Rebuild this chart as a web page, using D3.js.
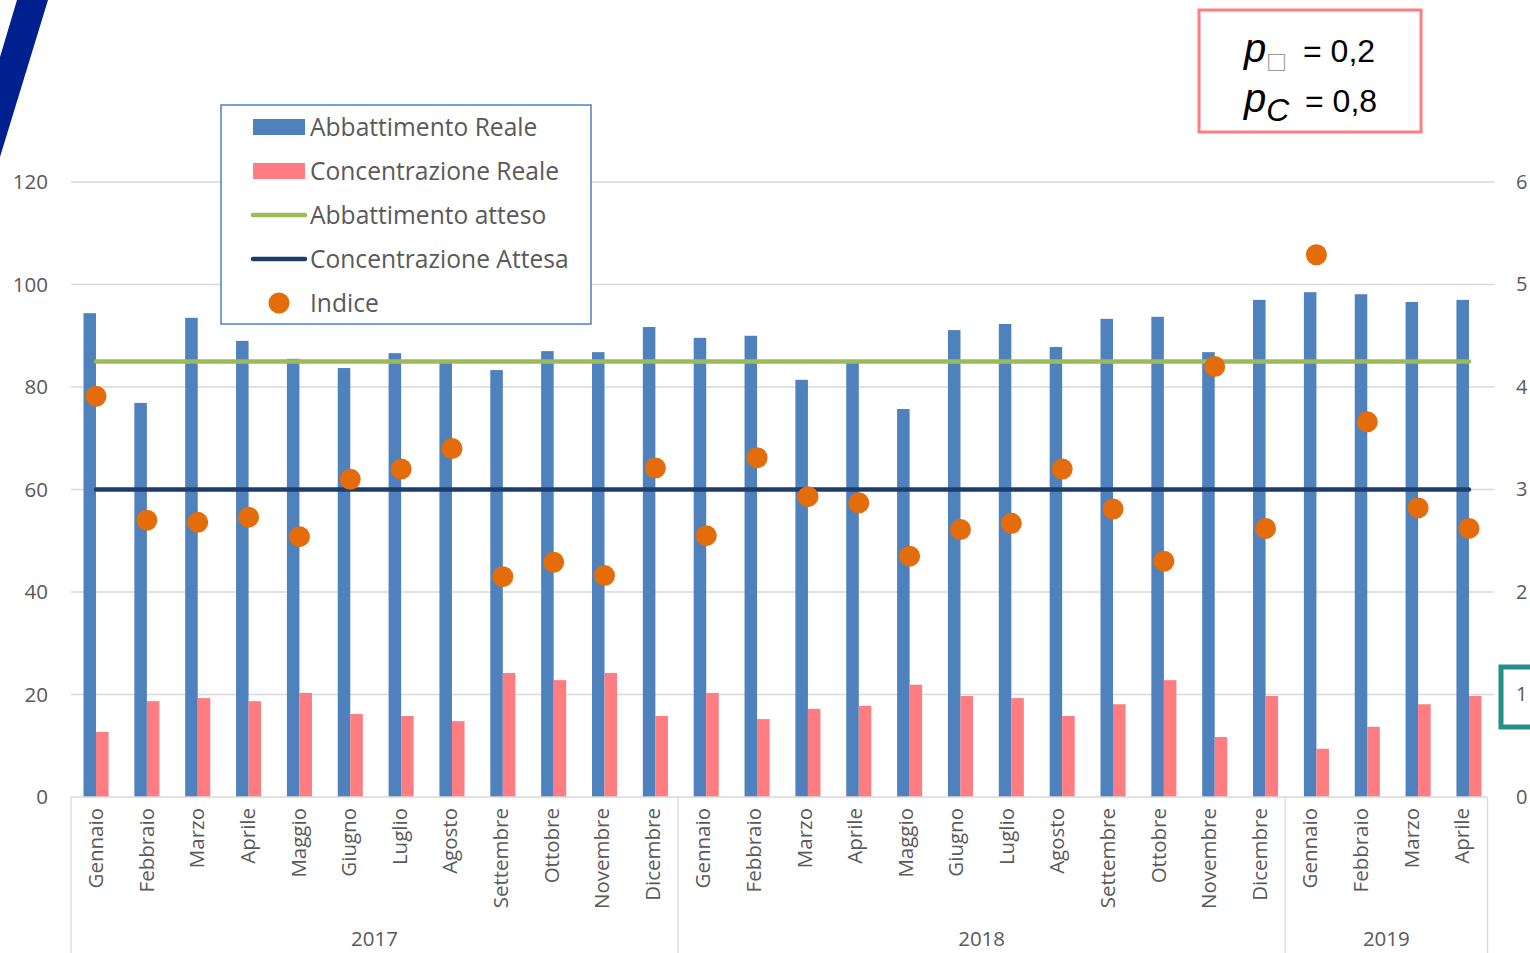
<!DOCTYPE html>
<html>
<head>
<meta charset="utf-8">
<script src="https://cdn.jsdelivr.net/npm/d3@7"></script>
<style>
  body { margin:0; background:#fff; }
  svg { display:block; font-family:"Open Sans", sans-serif; }
</style>
</head>
<body>
<div id="chart"></div>
<script>
// data
var months = ["Gennaio","Febbraio","Marzo","Aprile","Maggio","Giugno","Luglio","Agosto","Settembre","Ottobre","Novembre","Dicembre",
              "Gennaio","Febbraio","Marzo","Aprile","Maggio","Giugno","Luglio","Agosto","Settembre","Ottobre","Novembre","Dicembre",
              "Gennaio","Febbraio","Marzo","Aprile"]
var years = ["2017","2018","2019"]
var yearCounts = [12,12,4]
var abbattimentoReale = [94.4,76.9,93.5,89,85.5,83.7,86.6,85,83.3,87,86.8,91.7,
                         89.6,90,81.4,84.9,75.7,91.1,92.3,87.8,93.3,93.7,86.8,97,
                         98.5,98.1,96.6,97]
var concentrazioneReale = [12.7,18.7,19.3,18.7,20.3,16.2,15.8,14.8,24.2,22.8,24.2,15.8,
                           20.3,15.2,17.2,17.8,21.9,19.7,19.3,15.8,18.1,22.8,11.7,19.7,
                           9.4,13.7,18.1,19.7]
var indice = [3.91,2.70,2.68,2.73,2.54,3.10,3.20,3.40,2.15,2.29,2.16,3.21,
              2.55,3.31,2.93,2.87,2.35,2.61,2.67,3.20,2.81,2.30,4.20,2.62,
              5.29,3.66,2.82,2.62]
var abbattimentoAtteso = 85
var concentrazioneAttesa = 60
var leftTicks = [0,20,40,60,80,100,120]
var rightTicks = [0,1,2,3,4,5,6]
var legendItems = ["Abbattimento Reale","Concentrazione Reale","Abbattimento atteso","Concentrazione Attesa","Indice"]

var W = 1530, H = 953
// plot area (don't call these top/left, window.top is taken)
var plotL = 71, plotR = 1487.5, plotT = 182, plotB = 797

var col = {blue:"#4f81bd", pink:"#ff7c80", green:"#9bbb59", navy:"#1f3d6b", dot:"#e46c0a", txt:"#595959", grid:"#d9d9d9"}

var svg = d3.select("#chart").append("svg").attr("width", W).attr("height", H)

// blue stripe top-left
svg.append("polygon").attr("points","17,0 48,0 0,157 0,57").attr("fill","#00208f")

// axis categories
var x = d3.scaleBand().domain(d3.range(months.length)).range([plotL, plotR]).padding(0)
// the marks in the original sit on a slightly wider step than the axis, so they get their own band
var xm = d3.scaleBand().domain(d3.range(months.length)).range([70.6, 1494.4]).padding(0)
var x1 = d3.scaleBand().domain(["a","c"]).range([0, xm.bandwidth()]).paddingInner(0).paddingOuter(1.03)
var y = d3.scaleLinear().domain([0,120]).range([plotB, plotT])
var y2 = d3.scaleLinear().domain([0,6]).range([plotB, plotT])

// gridlines
svg.append("g").selectAll("line").data(leftTicks.slice(1)).enter().append("line")
  .attr("x1", plotL).attr("x2", plotR + 7)
  .attr("y1", function(d){return y(d)}).attr("y2", function(d){return y(d)})
  .attr("stroke", col.grid).attr("stroke-width", 1.3)

// left axis
var yAxis = d3.axisLeft(y).tickValues(leftTicks).tickFormat(d3.format("d")).tickSize(0).tickPadding(23)
var gy = svg.append("g").attr("transform","translate(" + plotL + ",0)").call(yAxis)
gy.select(".domain").remove()
gy.selectAll("text").attr("fill", col.txt).style("font-size","20.5px").style("font-family","Open Sans")

// highlight box around "1" on right axis
svg.append("rect").attr("x",1501).attr("y",667).attr("width",40).attr("height",60)
  .attr("fill","#fff").attr("stroke","#4472c4").attr("stroke-width",5)
svg.append("rect").attr("x",1501).attr("y",667).attr("width",40).attr("height",60)
  .attr("fill","none").attr("stroke","#12a060").attr("stroke-width",3)

// right axis (labels sit right at the page edge like the original)
var yAxis2 = d3.axisRight(y2).tickValues(rightTicks).tickFormat(d3.format("d")).tickSize(0).tickPadding(28.5)
var gy2 = svg.append("g").attr("transform","translate(" + plotR + ",0)").call(yAxis2)
gy2.select(".domain").remove()
gy2.selectAll("text").attr("fill", col.txt).style("font-size","20px").style("font-family","Open Sans")

// bars
var g = svg.append("g")
g.selectAll(".ab").data(abbattimentoReale).enter().append("rect")
  .attr("x", function(d,i){return xm(i) + x1("a")})
  .attr("width", x1.bandwidth())
  .attr("y", function(d){return y(d)})
  .attr("height", function(d){return plotB - y(d)})
  .attr("fill", col.blue)
g.selectAll(".co").data(concentrazioneReale).enter().append("rect")
  .attr("x", function(d,i){return xm(i) + x1("c")})
  .attr("width", x1.bandwidth())
  .attr("y", function(d){return y(d)})
  .attr("height", function(d){return plotB - y(d)})
  .attr("fill", col.pink)

// x axis line + year separators
svg.append("line").attr("x1", plotL).attr("x2", plotR).attr("y1", plotB).attr("y2", plotB)
  .attr("stroke", col.grid).attr("stroke-width", 1.3)
var cum = [0]
yearCounts.forEach(function(c){ cum.push(cum[cum.length-1] + c) })
svg.append("g").selectAll("line").data(cum).enter().append("line")
  .attr("x1", function(d){return d < months.length ? x(d) : plotR})
  .attr("x2", function(d){return d < months.length ? x(d) : plotR})
  .attr("y1", plotB).attr("y2", H)
  .attr("stroke", col.grid).attr("stroke-width", 1.3)

// month labels
svg.append("g").selectAll("text").data(months).enter().append("text")
  .attr("transform", function(d,i){
    return "translate(" + (x(i) + x.bandwidth()/2 + 7) + "," + (plotB + 11) + ") rotate(-90)"
  })
  .attr("text-anchor","end")
  .attr("fill", col.txt).style("font-size","20.5px")
  .text(function(d){return d})

// year labels
svg.append("g").selectAll("text").data(years).enter().append("text")
  .attr("x", function(d,i){
    var a = x(cum[i]), b = cum[i+1] < months.length ? x(cum[i+1]) : plotR
    return (a + b)/2
  })
  .attr("y", 946).attr("text-anchor","middle")
  .attr("fill", col.txt).style("font-size","20.5px")
  .text(function(d){return d})

// expected lines
var cx = function(i){return xm(i) + xm.bandwidth()/2}
var xs = [cx(0), cx(months.length-1)]
svg.append("line").attr("x1", xs[0]).attr("x2", xs[1])
  .attr("y1", y(abbattimentoAtteso)).attr("y2", y(abbattimentoAtteso))
  .attr("stroke", col.green).attr("stroke-width", 4.5).attr("stroke-linecap","round")
svg.append("line").attr("x1", xs[0]).attr("x2", xs[1])
  .attr("y1", y(concentrazioneAttesa)).attr("y2", y(concentrazioneAttesa))
  .attr("stroke", col.navy).attr("stroke-width", 4.5).attr("stroke-linecap","round")

// indice dots
svg.append("g").selectAll("circle").data(indice).enter().append("circle")
  .attr("cx", function(d,i){return cx(i)})
  .attr("cy", function(d){return y2(d)})
  .attr("r", 10.5)
  .attr("fill", col.dot)

// legend
var lg = svg.append("g")
lg.append("rect").attr("x",221).attr("y",105).attr("width",370).attr("height",219)
  .attr("fill","#fff").attr("stroke","#4f81bd").attr("stroke-width",1.5)
legendItems.forEach(function(name,i){
  var cy = 127 + i*44
  if (i < 2) {
    lg.append("rect").attr("x",253).attr("y",cy-8).attr("width",52).attr("height",16)
      .attr("fill", i==0 ? col.blue : col.pink)
  } else if (i < 4) {
    lg.append("line").attr("x1",253).attr("x2",305).attr("y1",cy).attr("y2",cy)
      .attr("stroke", i==2 ? col.green : col.navy).attr("stroke-width",4.5).attr("stroke-linecap","round")
  } else {
    lg.append("circle").attr("cx",279).attr("cy",cy).attr("r",10.5).attr("fill",col.dot)
  }
  lg.append("text").attr("x",310).attr("y",cy+8.5).attr("fill",col.txt)
    .style("font-size","24.6px").text(name)
})

// parameter box
var pb = svg.append("g")
pb.append("rect").attr("x",1199).attr("y",10).attr("width",222).attr("height",122)
  .attr("fill","#fff").attr("stroke","#ff7c80").attr("stroke-width",3)
var t1 = pb.append("text").attr("x",1244).attr("y",62).attr("fill","#000")
  .style("font-family","Liberation Sans, Arial, sans-serif")
t1.append("tspan").style("font-style","italic").style("font-size","40px").text("p")
t1.append("tspan").attr("x",1268).attr("dy",9).attr("fill","#999").style("font-size","28px").text("\u25a1")
t1.append("tspan").attr("x",1303).attr("dy",-9).style("font-size","32px").text("= 0,2")
var t2 = pb.append("text").attr("x",1244).attr("y",112).attr("fill","#000")
  .style("font-family","Liberation Sans, Arial, sans-serif")
t2.append("tspan").style("font-style","italic").style("font-size","40px").text("p")
t2.append("tspan").attr("dy",9).style("font-style","italic").style("font-size","32px").text("C")
t2.append("tspan").attr("x",1305).attr("dy",-9).style("font-size","32px").text("= 0,8")
</script>
</body>
</html>
